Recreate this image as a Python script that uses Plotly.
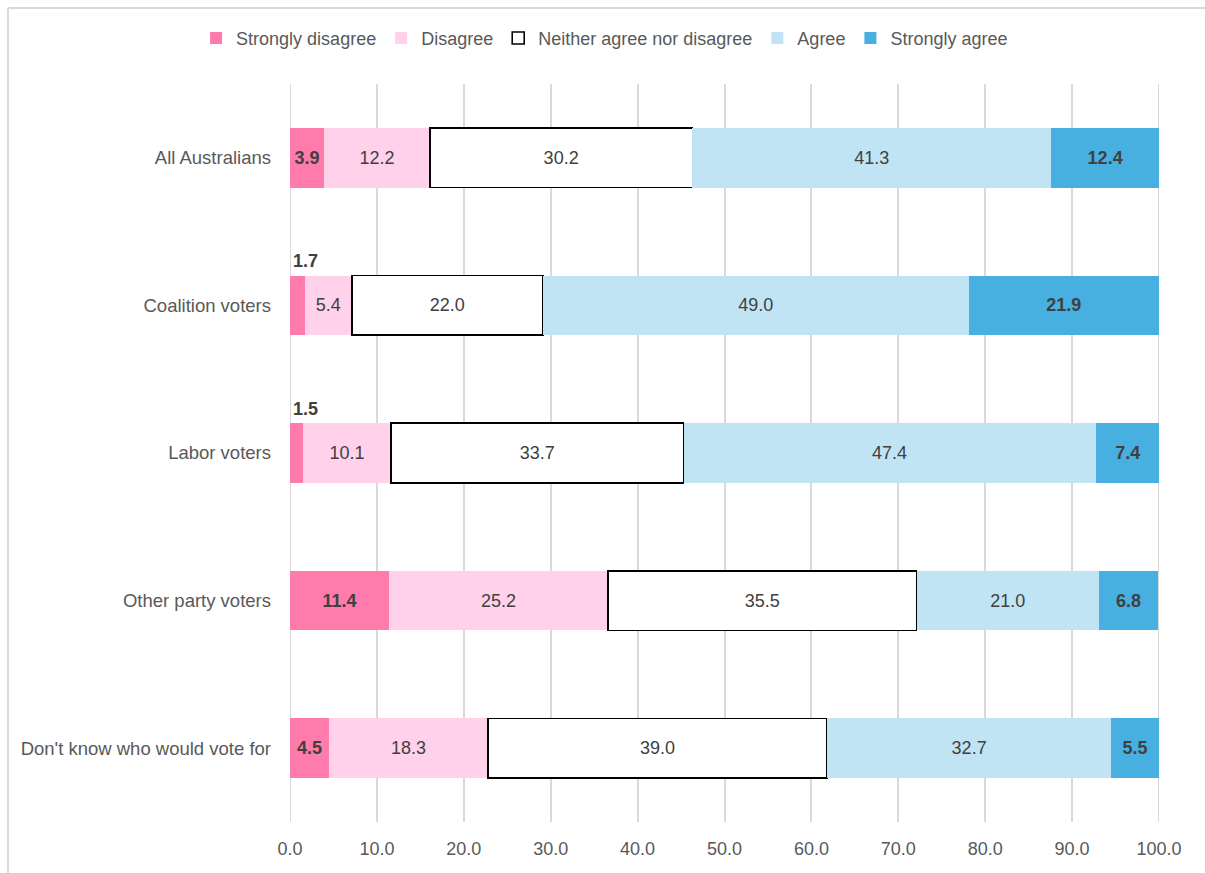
import plotly.graph_objects as go

categories = ["All Australians", "Coalition voters", "Labor voters",
              "Other party voters", "Don't know who would vote for"]
series_names = ["Strongly disagree", "Disagree", "Neither agree nor disagree",
                "Agree", "Strongly agree"]
strongly_disagree = [3.9, 1.7, 1.5, 11.4, 4.5]
disagree = [12.2, 5.4, 10.1, 25.2, 18.3]
neither = [30.2, 22.0, 33.7, 35.5, 39.0]
agree = [41.3, 49.0, 47.4, 21.0, 32.7]
strongly_agree = [12.4, 21.9, 7.4, 6.8, 5.5]
x_ticks = [0, 10, 20, 30, 40, 50, 60, 70, 80, 90, 100]

series_values = [strongly_disagree, disagree, neither, agree, strongly_agree]
colors = ["#FF7BAC", "#FFD1EA", "#FFFFFF", "#C1E4F5", "#47B0E0"]
bold = [True, False, False, False, True]
line_w = [0, 0, 1.6, 0, 0]

LABEL_FONT = "Liberation Sans, Arial, sans-serif"
TEXT_COLOR = "#404040"
AXIS_COLOR = "#595959"
GRID_COLOR = "#D9D9D9"

fig = go.Figure()
annotations = []
for name, vals, col, b, lw in zip(series_names, series_values, colors, bold, line_w):
    texts = []
    for cat, v in zip(categories, vals):
        s = f"{v:.1f}"
        if b:
            s = f"<b>{s}</b>"
        if v < 2:
            annotations.append(dict(x=0, y=cat, xref="x", yref="y", text=s,
                                    showarrow=False, xanchor="left", yanchor="middle",
                                    xshift=1, yshift=44,
                                    font=dict(family=LABEL_FONT, size=18, color=TEXT_COLOR)))
            texts.append("")
        else:
            texts.append(s)
    fig.add_trace(go.Bar(
        name=name, x=vals, y=categories, orientation="h",
        marker=dict(color=col, line=dict(color="#000000", width=lw)),
        text=texts, texttemplate="%{text}", textposition="inside",
        insidetextanchor="middle", textangle=0, constraintext="none",
        textfont=dict(family=LABEL_FONT, size=18, color=TEXT_COLOR),
        width=0.405, hoverinfo="x+y+name",
    ))

shapes = [
    # outer chart border (left and top edges)
    dict(type="line", xref="paper", yref="paper", x0=-0.3245, x1=1.06, y0=1.103, y1=1.103,
         line=dict(color=GRID_COLOR, width=2)),
    dict(type="line", xref="paper", yref="paper", x0=-0.3245, x1=-0.3245, y0=1.103, y1=-0.08,
         line=dict(color=GRID_COLOR, width=2)),
]
# gridlines at the range edges (plotly skips these)
for xv in (x_ticks[0], x_ticks[-1]):
    shapes.append(dict(type="line", xref="x", yref="paper", x0=xv, x1=xv, y0=0, y1=1,
                       layer="below", line=dict(color=GRID_COLOR, width=2)))

fig.update_layout(
    barmode="stack",
    width=1205, height=873,
    margin=dict(l=290, r=46, t=84, b=51),
    paper_bgcolor="white", plot_bgcolor="white",
    bargap=0.6,
    legend=dict(orientation="h", x=0.362, xanchor="center", y=1.062, yanchor="middle",
                font=dict(family=LABEL_FONT, size=18, color=AXIS_COLOR),
                traceorder="normal", itemwidth=30),
    annotations=annotations,
    shapes=shapes,
    showlegend=True,
)
fig.update_xaxes(range=[0, 100], tickvals=x_ticks, tickformat=".1f",
                 showgrid=True, gridcolor=GRID_COLOR, gridwidth=2,
                 zeroline=False, showline=False, ticks="",
                 tickfont=dict(family=LABEL_FONT, size=18, color=AXIS_COLOR),
                 ticklabelstandoff=14)
fig.update_yaxes(categoryorder="array", categoryarray=categories, autorange="reversed",
                 showgrid=False, zeroline=False, showline=False, ticks="",
                 tickfont=dict(family=LABEL_FONT, size=18.5, color=AXIS_COLOR),
                 ticklabelstandoff=18)

fig.write_html("out.html")
